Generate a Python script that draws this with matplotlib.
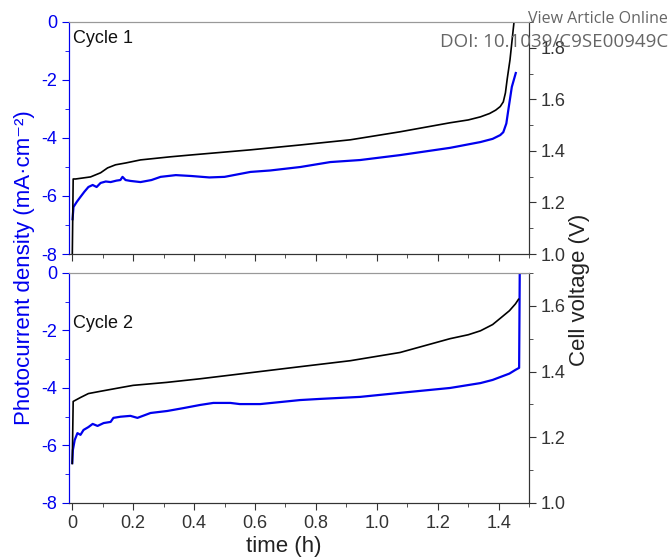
import matplotlib.pyplot as plt
from matplotlib.ticker import MultipleLocator

plt.rcParams['font.family'] = ['Liberation Sans', 'DejaVu Sans']
plt.rcParams['axes.unicode_minus'] = False

# cycle 1
t_c1_current = [0.001, 0.004, 0.015, 0.027, 0.04, 0.053, 0.067, 0.080, 0.093, 0.11, 0.126,
                0.145, 0.158, 0.165, 0.175, 0.191, 0.224, 0.26, 0.29, 0.34, 0.39, 0.45, 0.50,
                0.585, 0.65, 0.749, 0.847, 0.945, 1.076, 1.24, 1.34, 1.38, 1.405, 1.415,
                1.425, 1.432, 1.443, 1.456]
c1_current = [-6.8, -6.38, -6.2, -6.03, -5.85, -5.69, -5.62, -5.69, -5.55, -5.5, -5.52,
              -5.47, -5.45, -5.34, -5.45, -5.48, -5.52, -5.45, -5.34, -5.28, -5.31, -5.36, -5.34,
              -5.17, -5.12, -5.0, -4.83, -4.76, -4.59, -4.34, -4.14, -4.03, -3.9, -3.8,
              -3.5, -3.0, -2.24, -1.76]
t_c1_voltage = [0.0, 0.003, 0.011, 0.06, 0.093, 0.116, 0.142, 0.175, 0.224, 0.322, 0.388,
                0.585, 0.749, 0.913, 1.076, 1.24, 1.30, 1.34, 1.37, 1.39, 1.405, 1.415,
                1.422, 1.428, 1.437, 1.452]
c1_voltage = [0.98, 1.291, 1.291, 1.299, 1.315, 1.334, 1.346, 1.353, 1.365, 1.377, 1.384,
              1.404, 1.423, 1.443, 1.474, 1.509, 1.52, 1.532, 1.545, 1.558, 1.572, 1.59,
              1.625, 1.68, 1.753, 1.92]

# cycle 2
t_c2_current = [0.0, 0.002, 0.008, 0.017, 0.027, 0.037, 0.053, 0.067, 0.083, 0.103, 0.126,
                0.135, 0.158, 0.191, 0.214, 0.257, 0.312, 0.365, 0.42, 0.463, 0.519, 0.55,
                0.617, 0.748, 0.814, 0.945, 1.076, 1.24, 1.34, 1.38, 1.405, 1.435, 1.455,
                1.467, 1.469, 1.488]
c2_current = [-6.61, -6.16, -5.81, -5.57, -5.63, -5.46, -5.36, -5.25, -5.32, -5.22, -5.18,
              -5.04, -5.0, -4.97, -5.04, -4.87, -4.8, -4.7, -4.59, -4.52, -4.52, -4.56,
              -4.56, -4.42, -4.38, -4.31, -4.17, -4.0, -3.83, -3.72, -3.62, -3.5, -3.37,
              -3.30, 0.0, 0.0]
t_c2_voltage = [0.0, 0.003, 0.027, 0.053, 0.093, 0.158, 0.2, 0.31, 0.42, 0.75, 0.913,
                1.076, 1.24, 1.30, 1.34, 1.38, 1.405, 1.435, 1.455, 1.465]
c2_voltage = [1.12, 1.309, 1.321, 1.333, 1.34, 1.351, 1.358, 1.367, 1.378, 1.415, 1.433,
              1.458, 1.5, 1.512, 1.524, 1.543, 1.562, 1.585, 1.606, 1.62]

x_ticks = [0, 0.2, 0.4, 0.6, 0.8, 1.0, 1.2, 1.4]
x_ticklabels = ['0', '0.2', '0.4', '0.6', '0.8', '1.0', '1.2', '1.4']

BLUE = '#0000ee'


def style_panel(ax, ax2, v_top, show_xlabels):
    ax.set_xlim(-0.011, 1.5)
    ax.set_ylim(-8, 0)
    ax2.set_ylim(1.0, v_top)

    ax.set_xticks(x_ticks)
    ax.xaxis.set_minor_locator(MultipleLocator(0.1))
    if show_xlabels:
        ax.set_xticklabels(x_ticklabels)
    else:
        ax.set_xticklabels([])
    ax.yaxis.set_major_locator(MultipleLocator(2))
    ax.yaxis.set_minor_locator(MultipleLocator(1))
    ax2.yaxis.set_major_locator(MultipleLocator(0.2))
    ax2.yaxis.set_minor_locator(MultipleLocator(0.1))

    ax.tick_params(axis='x', which='major', direction='out', length=5, labelsize=13,
                   colors='#333333')
    ax.tick_params(axis='x', which='minor', direction='out', length=3, color='#333333')
    ax.tick_params(axis='y', which='major', direction='out', length=5, labelsize=13,
                   colors=BLUE)
    ax.tick_params(axis='y', which='minor', direction='out', length=3, color=BLUE)
    ax2.tick_params(axis='y', which='major', direction='out', length=5, labelsize=13,
                    colors='#333333')
    ax2.tick_params(axis='y', which='minor', direction='out', length=3, color='#333333')

    for a in (ax, ax2):
        a.spines['left'].set_color(BLUE)
        a.spines['right'].set_color('#333333')
        a.spines['top'].set_color('#999999')
        a.spines['bottom'].set_color('#333333')


def main():
    fig = plt.figure(figsize=(6.69, 5.58), dpi=100)
    ax_top = fig.add_axes([0.103, 0.5448, 0.688, 0.4158])
    ax_bot = fig.add_axes([0.103, 0.0986, 0.688, 0.4122])
    ax_top2 = ax_top.twinx()
    ax_bot2 = ax_bot.twinx()

    ax_top.plot(t_c1_current, c1_current, color=BLUE, lw=1.6)
    ax_top2.plot(t_c1_voltage, c1_voltage, color='k', lw=1.2)
    ax_bot.plot(t_c2_current, c2_current, color=BLUE, lw=1.6)
    ax_bot2.plot(t_c2_voltage, c2_voltage, color='k', lw=1.2)

    style_panel(ax_top, ax_top2, 1.9, False)
    style_panel(ax_bot, ax_bot2, 1.7, True)

    ax_top.text(0.004, -0.58, 'Cycle 1', fontsize=13, va='center', color='#111111')
    ax_bot.text(0.004, -1.75, 'Cycle 2', fontsize=13, va='center', color='#111111')

    fig.text(0.036, 0.521, 'Photocurrent density (mA·cm⁻²)', rotation=90,
             ha='center', va='center', fontsize=16, color=BLUE)
    fig.text(0.866, 0.48, 'Cell voltage (V)', rotation=90, ha='center', va='center',
             fontsize=16, color='#222222')
    fig.text(0.424, 0.02, 'time (h)', ha='center', va='center', fontsize=16,
             color='#222222')

    fig.text(0.999, 0.966, 'View Article Online', ha='right', va='center', fontsize=11.5,
             color='#666666', family='Open Sans')
    fig.text(0.999, 0.925, 'DOI: 10.1039/C9SE00949C', ha='right', va='center',
             fontsize=13.5, color='#666666', family='Open Sans')

    plt.savefig('out.png', dpi=100)


if __name__ == '__main__':
    main()
